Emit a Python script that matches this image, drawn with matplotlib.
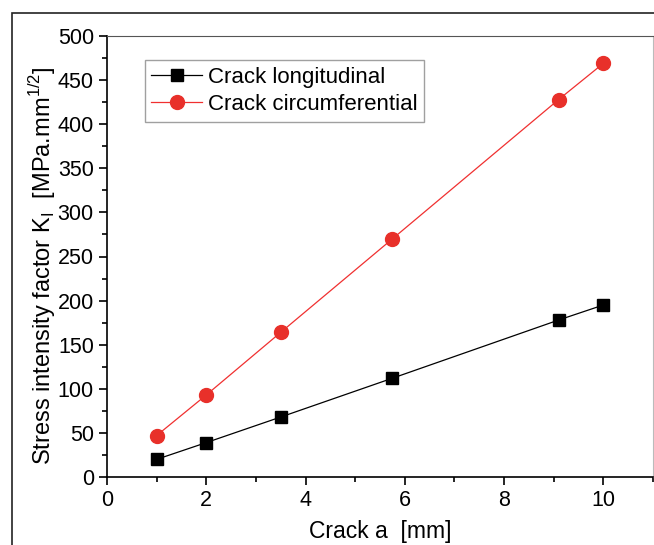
import matplotlib.pyplot as plt
from matplotlib.patches import Rectangle
from matplotlib.ticker import MultipleLocator

plt.rcParams['font.family'] = ['Liberation Sans', 'DejaVu Sans']

crack_a = [1, 2, 3.5, 5.75, 9.1, 10]
k_long = [20, 39, 68, 112, 178, 195]
k_circ = [47, 93, 164, 270, 428, 469]

fig = plt.figure(figsize=(6.54, 5.45), dpi=100)
ax = fig.add_axes([107 / 654, 1 - 477 / 545, (653 - 107) / 654, (477 - 36) / 545])

ax.plot(crack_a, k_long, color='black', lw=0.9, marker='s', ms=9,
        label='Crack longitudinal')
ax.plot(crack_a, k_circ, color='#f03030', lw=0.9, marker='o', ms=10,
        mfc='#e8302a', mec='#e8302a', label='Crack circumferential')

ax.set_xlim(0, 11)
ax.set_ylim(0, 500)
ax.xaxis.set_major_locator(MultipleLocator(2))
ax.xaxis.set_minor_locator(MultipleLocator(1))
ax.yaxis.set_major_locator(MultipleLocator(50))
ax.yaxis.set_minor_locator(MultipleLocator(25))
ax.tick_params(which='major', direction='out', length=6, width=1.2, labelsize=15.5)
ax.tick_params(which='minor', direction='out', length=3.5, width=1.2)
ax.tick_params(top=False, right=False)

for s in ['left', 'bottom']:
    ax.spines[s].set_linewidth(1.2)
ax.spines['top'].set_color('#555555')
ax.spines['right'].set_color('#bbbbbb')

ax.set_xlabel('Crack a  [mm]', fontsize=16.5, labelpad=6)
ax.set_ylabel(r'Stress intensity factor K$_\mathregular{I}$  [MPa.mm$^\mathregular{1/2}$]',
              fontsize=17)
ax.yaxis.set_label_coords(-0.09, 0.48)

leg = ax.legend(loc='upper left', bbox_to_anchor=(0.069, 0.945), fontsize=16,
                frameon=True, fancybox=False, edgecolor='#888888',
                borderpad=0.3, handlelength=2.3, handletextpad=0.25,
                labelspacing=0.28, borderaxespad=0)
leg.get_frame().set_linewidth(1)

# outer frame
fig.patches.append(Rectangle((12 / 654, -0.1), 1.2, 1 - 13 / 545 + 0.1,
                             transform=fig.transFigure, fill=False,
                             edgecolor='#222222', lw=1.2))

fig.savefig('out.png', dpi=100)
